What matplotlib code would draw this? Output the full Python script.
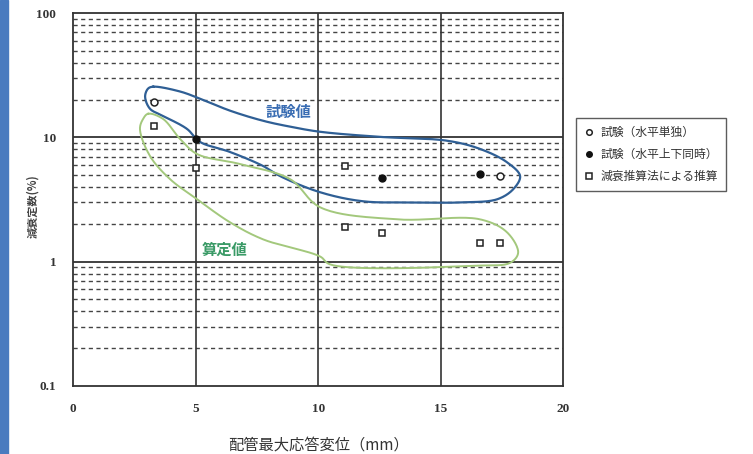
import numpy as np
import matplotlib.pyplot as plt
from matplotlib.patches import Rectangle

plt.rcParams['font.family'] = ['Noto Sans CJK JP', 'DejaVu Sans']

# test, horizontal only (open circles)
x_h = [3.3, 17.4]
y_h = [19.4, 4.9]
# test, horizontal + vertical (filled circles)
x_hv = [5.0, 12.6, 16.6]
y_hv = [9.7, 4.7, 5.1]
# estimate by damping method (open squares)
x_est = [3.3, 5.0, 11.1, 11.1, 12.6, 16.6, 17.4]
y_est = [12.4, 5.7, 5.9, 1.9, 1.7, 1.42, 1.42]

legend_labels = ['試験（水平単独）', '試験（水平上下同時）', '減衰推算法による推算']

# hand-drawn outlines (data units)
blue_x = [3.27, 4.37, 5.18, 6.41, 7.76, 8.86, 10.08, 12.53, 15.27, 16.61, 17.71, 18.24,
          17.96, 17.31, 15.92, 13.88, 11.84, 10.08, 8.45, 7.76, 6.41, 5.18, 4.65, 3.67,
          3.14, 2.94, 3.06]
blue_y = [25.6, 23.4, 20.5, 16.4, 13.6, 12.2, 11.1, 10.1, 9.4, 8.07, 6.3, 4.88,
          3.83, 3.18, 3.0, 3.0, 3.06, 3.62, 4.88, 5.88, 7.63, 9.2, 11.7, 14.9,
          17.0, 21.3, 24.7]
green_x = [3.06, 3.67, 4.37, 5.06, 6.82, 8.86, 10.08, 13.22, 16.61, 17.71, 18.16, 17.84,
           16.61, 10.49, 10.08, 7.76, 6.41, 5.06, 3.96, 3.14, 2.73, 2.86]
green_y = [15.5, 14.1, 9.7, 7.35, 6.1, 4.61, 2.74, 2.19, 2.19, 1.72, 1.18, 0.98,
           0.93, 0.95, 1.10, 1.51, 2.07, 3.18, 4.61, 7.08, 11.7, 14.1]

y_ticks = [0.1, 1, 10, 100]
y_ticklabels = ['0.1', '1', '10', '100']
x_ticks = [0, 5, 10, 15, 20]


def closed_spline(xs, ys, n=24):
    # periodic centripetal Catmull-Rom, x and log y scaled to look even
    sx, sy = 24.5, 124.0
    p = np.column_stack([np.asarray(xs) * sx, np.log10(ys) * sy])
    m = len(p)
    out = []
    for i in range(m):
        p0, p1, p2, p3 = p[i - 1], p[i], p[(i + 1) % m], p[(i + 2) % m]
        t0 = 0.0
        t1 = t0 + np.linalg.norm(p1 - p0) ** 0.5
        t2 = t1 + np.linalg.norm(p2 - p1) ** 0.5
        t3 = t2 + np.linalg.norm(p3 - p2) ** 0.5
        for t in np.linspace(t1, t2, n, endpoint=False):
            a1 = (t1 - t) / (t1 - t0) * p0 + (t - t0) / (t1 - t0) * p1
            a2 = (t2 - t) / (t2 - t1) * p1 + (t - t1) / (t2 - t1) * p2
            a3 = (t3 - t) / (t3 - t2) * p2 + (t - t2) / (t3 - t2) * p3
            b1 = (t2 - t) / (t2 - t0) * a1 + (t - t0) / (t2 - t0) * a2
            b2 = (t3 - t) / (t3 - t1) * a2 + (t - t1) / (t3 - t1) * a3
            out.append((t2 - t) / (t2 - t1) * b1 + (t - t1) / (t2 - t1) * b2)
    out.append(out[0])
    out = np.array(out)
    return out[:, 0] / sx, 10 ** (out[:, 1] / sy)


fig = plt.figure(figsize=(7.53, 4.54), dpi=100)
ax = fig.add_axes([0.097, 0.150, 0.651, 0.821])
ax.set_yscale('log')
ax.set_xlim(0, 20)
ax.set_ylim(0.1, 100)

# grid
for dec in [0.1, 1, 10]:
    for k in range(2, 10):
        ax.axhline(dec * k, color='#444444', lw=1.0, ls=(0, (3, 2.5)), zorder=1)
for v in [1, 10]:
    ax.axhline(v, color='#333333', lw=1.3, zorder=1)
for v in [5, 10, 15]:
    ax.axvline(v, color='#333333', lw=1.2, zorder=1)

bx, by = closed_spline(blue_x, blue_y)
ax.plot(bx, by, color='#2f5f95', lw=1.6, zorder=2)
gx, gy = closed_spline(green_x, green_y)
ax.plot(gx, gy, color='#a3c87c', lw=1.4, zorder=2)

ax.text(8.8, 16.0, '試験値', color='#3a6db3', fontsize=11, fontweight='bold',
        ha='center', va='center', zorder=3)
ax.text(6.2, 1.25, '算定値', color='#3a9a66', fontsize=11, fontweight='bold',
        ha='center', va='center', zorder=3)

h1, = ax.plot(x_h, y_h, 'o', ms=5, mfc='white', mec='#222222', mew=1.1, ls='none', zorder=4)
h2, = ax.plot(x_hv, y_hv, 'o', ms=5, mfc='#111111', mec='#111111', ls='none', zorder=4)
h3, = ax.plot(x_est, y_est, 's', ms=5, mfc='white', mec='#222222', mew=1.1, ls='none', zorder=4)

ax.set_yticks(y_ticks)
ax.set_yticklabels(y_ticklabels)
ax.set_xticks(x_ticks)
ax.minorticks_off()
ax.tick_params(length=0, labelsize=9.5, pad=12)
for lab in ax.get_xticklabels() + ax.get_yticklabels():
    lab.set_family('Liberation Serif')
    lab.set_fontweight('bold')
    lab.set_color('#333333')

for s in ax.spines.values():
    s.set_color('#333333')
    s.set_linewidth(1.3)

ax.set_xlabel('配管最大応答変位（mm）', fontsize=11, color='#333333', labelpad=16)
fig.text(0.044, 0.545, '減衰定数(%)', rotation=90, fontsize=8, fontweight='bold',
         color='#444444', ha='center', va='center')

leg = ax.legend([h1, h2, h3], legend_labels, loc='upper left',
                bbox_to_anchor=(1.015, 0.735), fontsize=8.5, frameon=True, fancybox=False,
                edgecolor='#333333', handlelength=0.8, handletextpad=0.5,
                labelspacing=0.75, borderpad=0.7, markerscale=0.8)
leg.get_frame().set_linewidth(1.0)
for t in leg.get_texts():
    t.set_color('#333333')

# blue band on left edge
fig.patches.append(Rectangle((0, 0), 0.011, 1, transform=fig.transFigure,
                             color='#4a7bbf', zorder=0))

fig.savefig('out.png', dpi=100)
